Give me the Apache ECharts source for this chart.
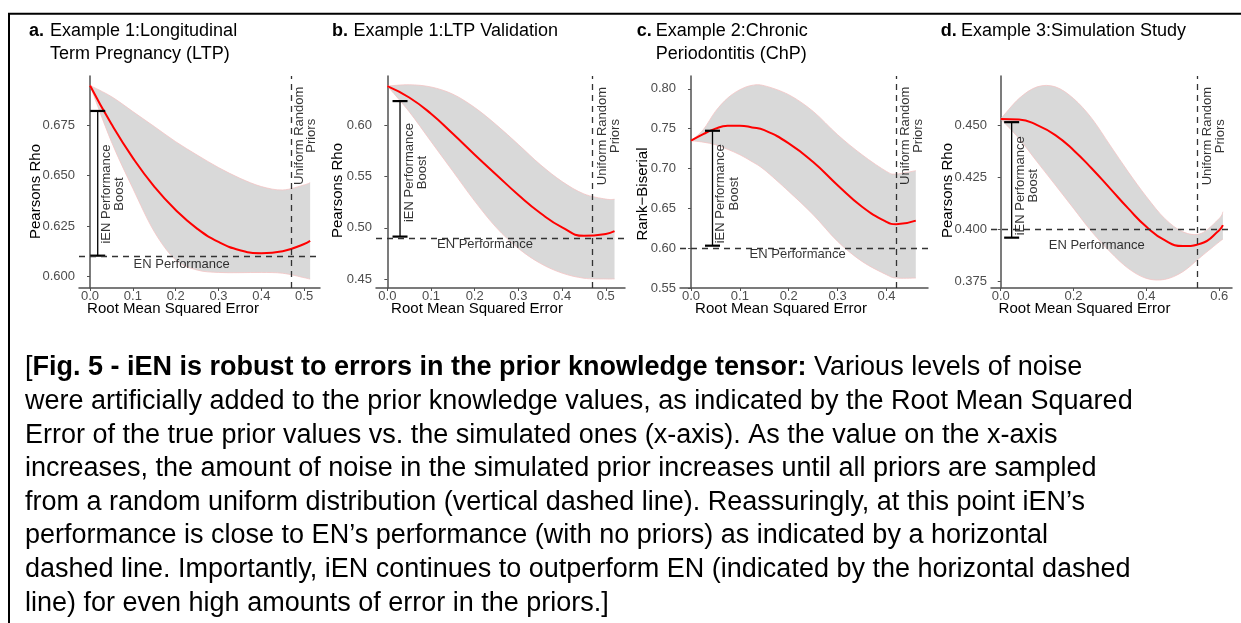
<!DOCTYPE html>
<html>
<head>
<meta charset="utf-8">
<script src="https://cdn.jsdelivr.net/npm/echarts@6/dist/echarts.min.js"></script>
<style>
html, body { margin: 0; padding: 0; background: #fff; }
#chart { width: 1241px; height: 623px; }
</style>
</head>
<body>
<div id="chart"></div>
<script>
const FONT = '"Liberation Sans", Arial, Helvetica, sans-serif';

// a. Example 1: Longitudinal Term Pregnancy
const xA = [0, 0.05, 0.1, 0.15, 0.2, 0.25, 0.3, 0.35, 0.4, 0.45, 0.5, 0.514];
const fitA = [0.6946, 0.6755, 0.6588, 0.6446, 0.6330, 0.6238, 0.6172, 0.6131, 0.6116, 0.6126, 0.6162, 0.6177];
const upA = [0.6946, 0.6891, 0.6817, 0.6743, 0.6668, 0.6602, 0.6540, 0.6487, 0.6446, 0.6429, 0.6454, 0.6465];
const loA = [0.6946, 0.6668, 0.6437, 0.6223, 0.6083, 0.6033, 0.6021, 0.6020, 0.6021, 0.6017, 0.5995, 0.5988];

// b. Example 1: LTP Validation
const xB = [0, 0.05, 0.1, 0.15, 0.2, 0.25, 0.3, 0.35, 0.4, 0.45, 0.5, 0.52];
const fitB = [0.6379, 0.6268, 0.6110, 0.5915, 0.5712, 0.5515, 0.5320, 0.5145, 0.5005, 0.4922, 0.4940, 0.4968];
const upB = [0.6379, 0.6392, 0.6370, 0.6300, 0.6170, 0.6000, 0.5810, 0.5615, 0.5450, 0.5330, 0.5280, 0.5278];
const loB = [0.6379, 0.6130, 0.5840, 0.5550, 0.5260, 0.5000, 0.4800, 0.4655, 0.4560, 0.4510, 0.4503, 0.4503];

// c. Example 2: Chronic Periodontitis
const xC = [0, 0.025, 0.05, 0.075, 0.1, 0.125, 0.15, 0.2, 0.25, 0.3, 0.35, 0.4, 0.42, 0.46];
const fitC = [0.7348, 0.7430, 0.7500, 0.7535, 0.7536, 0.7515, 0.7480, 0.7315, 0.7080, 0.6790, 0.6520, 0.6330, 0.6300, 0.6345];
const upC = [0.7348, 0.7486, 0.7716, 0.7883, 0.7988, 0.8043, 0.8038, 0.7925, 0.7716, 0.7423, 0.7172, 0.6963, 0.6930, 0.6972];
const loC = [0.7348, 0.7330, 0.7298, 0.7240, 0.7172, 0.7085, 0.6984, 0.6712, 0.6420, 0.6085, 0.5834, 0.5667, 0.5625, 0.5625];

// d. Example 3: Simulation Study
const xD = [0, 0.05, 0.1, 0.15, 0.2, 0.25, 0.3, 0.35, 0.4, 0.45, 0.5, 0.55, 0.6, 0.61];
const fitD = [0.4529, 0.4527, 0.4500, 0.4452, 0.4380, 0.4292, 0.4197, 0.4101, 0.4013, 0.3949, 0.3921, 0.3933, 0.3997, 0.4021];
const upD = [0.4529, 0.4627, 0.4683, 0.4683, 0.4627, 0.4532, 0.4404, 0.4276, 0.4157, 0.4053, 0.3989, 0.3981, 0.4053, 0.4085];
const loD = [0.4529, 0.4436, 0.4324, 0.4213, 0.4101, 0.3989, 0.3894, 0.3814, 0.3766, 0.3761, 0.3798, 0.3870, 0.3941, 0.3954];

// reference levels
const enLevel = [0.6104, 0.4915, 0.6031, 0.3961];
const uniformAt = [0.470, 0.472, 0.4218, 0.543];
const boostX = [0.018, 0.029, 0.044, 0.030];
const boostTop = [0.682, 0.6233, 0.7473, 0.4514];

// tick labels
const xTicksA = [0, 0.1, 0.2, 0.3, 0.4, 0.5];
const xTicksB = [0, 0.1, 0.2, 0.3, 0.4, 0.5];
const xTicksC = [0, 0.1, 0.2, 0.3, 0.4];
const xTicksD = [0, 0.2, 0.4, 0.6];
const yTicksA = [0.600, 0.625, 0.650, 0.675];
const yTicksB = [0.45, 0.50, 0.55, 0.60];
const yTicksC = [0.55, 0.60, 0.65, 0.70, 0.75, 0.80];
const yTicksD = [0.375, 0.400, 0.425, 0.450];

// annotation anchors (data space)
const boostLabelAt = [[0.054, 0.6409], [0.0657, 0.5538], [0.075, 0.6682], [0.0723, 0.4209]];
const enLabelAt = [[0.214, 0.6061], [0.2236, 0.4839], [0.2182, 0.5926], [0.2637, 0.3925]];
const uniLabelAt = [[0.5035, 0.6697], [0.507, 0.5893], [0.452, 0.7409], [0.585, 0.4447]];

const titles = [
    ['a.', 'Example 1:Longitudinal\nTerm Pregnancy (LTP)'],
    ['b.', 'Example 1:LTP Validation'],
    ['c.', 'Example 2:Chronic\nPeriodontitis (ChP)'],
    ['d.', 'Example 3:Simulation Study'],
];
const yNames = ['Pearsons Rho', 'Pearsons Rho', 'Rank\u2212Biserial', 'Pearsons Rho'];

const panels = [
    {x: xA, fit: fitA, up: upA, lo: loA, xTicks: xTicksA, yTicks: yTicksA, yDec: 3,
        left: 79, width: 241, xMin: -0.0257, xMax: 0.537, yMin: 0.5944, yMax: 0.6993,
        titleX: 29, bodyX: 50, xNameX: 173, yNameX: 36, yNameY: 191.5},
    {x: xB, fit: fitB, up: upB, lo: loB, xTicks: xTicksB, yTicks: yTicksB, yDec: 2,
        left: 376, width: 249, xMin: -0.026, xMax: 0.544, yMin: 0.4415, yMax: 0.6477,
        titleX: 332, bodyX: 353.5, xNameX: 477, yNameX: 338.3, yNameY: 190.5},
    {x: xC, fit: fitC, up: upC, lo: loC, xTicks: xTicksC, yTicks: yTicksC, yDec: 2,
        left: 680, width: 248, xMin: -0.0225, xMax: 0.485, yMin: 0.55, yMax: 0.816,
        titleX: 636.7, bodyX: 655.7, xNameX: 781, yNameX: 643.3, yNameY: 194},
    {x: xD, fit: fitD, up: upD, lo: loD, xTicks: xTicksD, yTicks: yTicksD, yDec: 3,
        left: 991, width: 241, xMin: -0.0267, xMax: 0.635, yMin: 0.372, yMax: 0.4735,
        titleX: 940.7, bodyX: 961, xNameX: 1084.5, yNameX: 948.3, yNameY: 190.5},
];

const AXIS_COLOR = '#505050';
const BAND_EDGE = {stroke: '#f4c4c4', lineWidth: 0.8, fill: null};

// Catmull-Rom segments (as cubic beziers) through pixel points, without the leading move.
const curveThrough = (pts) => {
    let d = '';
    for (let k = 0; k < pts.length - 1; k++) {
        const p0 = pts[Math.max(k - 1, 0)], p1 = pts[k], p2 = pts[k + 1], p3 = pts[Math.min(k + 2, pts.length - 1)];
        const c1 = [p1[0] + (p2[0] - p0[0]) / 6, p1[1] + (p2[1] - p0[1]) / 6];
        const c2 = [p2[0] - (p3[0] - p1[0]) / 6, p2[1] - (p3[1] - p1[1]) / 6];
        d += ` C${c1[0]},${c1[1]} ${c2[0]},${c2[1]} ${p2[0]},${p2[1]}`;
    }
    return d;
};

const grid = [], xAxis = [], yAxis = [], series = [], graphic = [];

panels.forEach((p, i) => {
    grid.push({left: p.left, top: 76, width: p.width, height: 212});
    xAxis.push({
        type: 'value', gridIndex: i, min: p.xMin, max: p.xMax,
        splitLine: {show: false},
        axisLine: {lineStyle: {color: AXIS_COLOR, width: 1.5}},
        axisTick: {customValues: p.xTicks, length: 3, lineStyle: {color: AXIS_COLOR}},
        axisLabel: {customValues: p.xTicks, formatter: v => v.toFixed(1), color: '#4d4d4d',
            fontSize: 13, fontFamily: FONT, margin: 2},
    });
    yAxis.push({
        type: 'value', gridIndex: i, min: p.yMin, max: p.yMax,
        splitLine: {show: false},
        axisLine: {show: true, lineStyle: {color: AXIS_COLOR, width: 1.5}},
        axisTick: {show: true, customValues: p.yTicks, length: 3, lineStyle: {color: AXIS_COLOR}},
        axisLabel: {customValues: p.yTicks, formatter: v => v.toFixed(p.yDec), color: '#4d4d4d',
            fontSize: 13, fontFamily: FONT, margin: 4},
    });

    // confidence band, drawn once as one smoothed ribbon
    series.push({
        type: 'custom', xAxisIndex: i, yAxisIndex: i, silent: true, z: 1,
        data: p.x.map((v, k) => [v, p.up[k], p.lo[k]]),
        encode: {x: 0, y: [1, 2]},
        renderItem: (params, api) => {
            if (params.dataIndex !== 0) {
                return;
            }
            const upper = p.x.map((v, k) => api.coord([v, p.up[k]]));
            const lowerBack = p.x.map((v, k) => api.coord([v, p.lo[k]])).reverse();
            const upperPath = `M${upper[0][0]},${upper[0][1]}` + curveThrough(upper);
            const lowerPath = `M${lowerBack[0][0]},${lowerBack[0][1]}` + curveThrough(lowerBack);
            const ribbon = upperPath + ` L${lowerBack[0][0]},${lowerBack[0][1]}` + curveThrough(lowerBack) + ' Z';
            return {
                type: 'group', children: [
                    {type: 'path', shape: {pathData: ribbon}, style: {fill: '#d9d9d9'}},
                    {type: 'path', shape: {pathData: upperPath}, style: BAND_EDGE},
                    {type: 'path', shape: {pathData: lowerPath}, style: BAND_EDGE},
                ]
            };
        },
    });
    // fitted line + reference lines
    series.push({
        type: 'line', xAxisIndex: i, yAxisIndex: i, smooth: 0.5, symbol: 'none', silent: true, z: 3,
        lineStyle: {color: '#ff0000', width: 2},
        data: p.x.map((v, k) => [v, p.fit[k]]),
        markLine: {
            silent: true, symbol: 'none', label: {show: false},
            lineStyle: {color: '#333', type: [6, 5], width: 1.3},
            data: [{yAxis: enLevel[i]}, {xAxis: uniformAt[i]}],
        },
    });
    // performance boost error bar
    series.push({
        type: 'custom', xAxisIndex: i, yAxisIndex: i, silent: true, z: 4,
        data: [[boostX[i], enLevel[i], boostTop[i]]],
        encode: {x: 0, y: [1, 2]},
        renderItem: (params, api) => {
            const top = api.coord([api.value(0), api.value(2)]);
            const bot = api.coord([api.value(0), api.value(1)]);
            const hw = 7.5;
            return {
                type: 'group', children: [
                    {type: 'line', shape: {x1: top[0], y1: top[1], x2: bot[0], y2: bot[1]}, style: {stroke: '#000', lineWidth: 1.3}},
                    {type: 'line', shape: {x1: top[0] - hw, y1: top[1], x2: top[0] + hw, y2: top[1]}, style: {stroke: '#000', lineWidth: 2.2}},
                    {type: 'line', shape: {x1: bot[0] - hw, y1: bot[1], x2: bot[0] + hw, y2: bot[1]}, style: {stroke: '#000', lineWidth: 2.2}},
                ]
            };
        },
    });
    // text annotations
    series.push({
        type: 'scatter', xAxisIndex: i, yAxisIndex: i, silent: true, z: 5, symbolSize: 1,
        itemStyle: {color: 'rgba(0,0,0,0)'},
        label: {show: true, position: 'inside', color: '#000', fontSize: 13, fontFamily: FONT},
        data: [
            {value: boostLabelAt[i], label: {formatter: 'iEN Performance\nBoost', rotate: 90, lineHeight: 13.5}},
            {value: enLabelAt[i], label: {formatter: 'EN Performance'}},
            {value: uniLabelAt[i], label: {formatter: 'Uniform Random\nPriors', rotate: 90, lineHeight: 12.5}},
        ],
    });

    // panel titles
    graphic.push({type: 'text', x: p.titleX, y: 19.5, style: {
        text: titles[i][0], fill: '#000', font: 'bold 18px ' + FONT, verticalAlign: 'top', lineHeight: 23}});
    graphic.push({type: 'text', x: p.bodyX, y: 19.5, style: {
        text: titles[i][1], fill: '#000', font: '18px ' + FONT, verticalAlign: 'top', lineHeight: 23}});
    // axis titles
    graphic.push({type: 'text', x: p.xNameX, y: 309, style: {
        text: 'Root Mean Squared Error', fill: '#000', font: '15px ' + FONT, align: 'center', verticalAlign: 'middle'}});
    graphic.push({type: 'text', x: p.yNameX, y: p.yNameY, rotation: Math.PI / 2, style: {
        text: yNames[i], fill: '#000', font: '15px ' + FONT, align: 'center', verticalAlign: 'middle'}});
});

// frame
graphic.push({type: 'polyline', shape: {points: [[1241, 13.7], [9, 13.7], [9, 623]]},
    style: {stroke: '#000', lineWidth: 2, fill: null}});

// caption
const captionLines = [
    '[{b|Fig. 5 - iEN is robust to errors in the prior knowledge tensor:} Various levels of noise',
    'were artificially added to the prior knowledge values, as indicated by the Root Mean Squared',
    'Error of the true prior values vs. the simulated ones (x-axis). As the value on the x-axis',
    'increases, the amount of noise in the simulated prior increases until all priors are sampled',
    'from a random uniform distribution (vertical dashed line). Reassuringly, at this point iEN\u2019s',
    'performance is close to EN\u2019s performance (with no priors) as indicated by a horizontal',
    'dashed line. Importantly, iEN continues to outperform EN (indicated by the horizontal dashed',
    'line) for even high amounts of error in the priors.]',
];
graphic.push({type: 'text', x: 25, y: 351.2, style: {
    text: captionLines.join('\n'), fill: '#000', fontSize: 27, fontFamily: FONT,
    lineHeight: 33.6, verticalAlign: 'top',
    rich: {b: {fontWeight: 'bold', fontSize: 27, fontFamily: FONT, lineHeight: 33.6, fill: '#000'}},
}});

const chart = echarts.init(document.getElementById('chart'), null, {renderer: 'canvas'});
chart.setOption({
    animation: false,
    backgroundColor: '#fff',
    grid, xAxis, yAxis, series, graphic,
});
</script>
</body>
</html>
